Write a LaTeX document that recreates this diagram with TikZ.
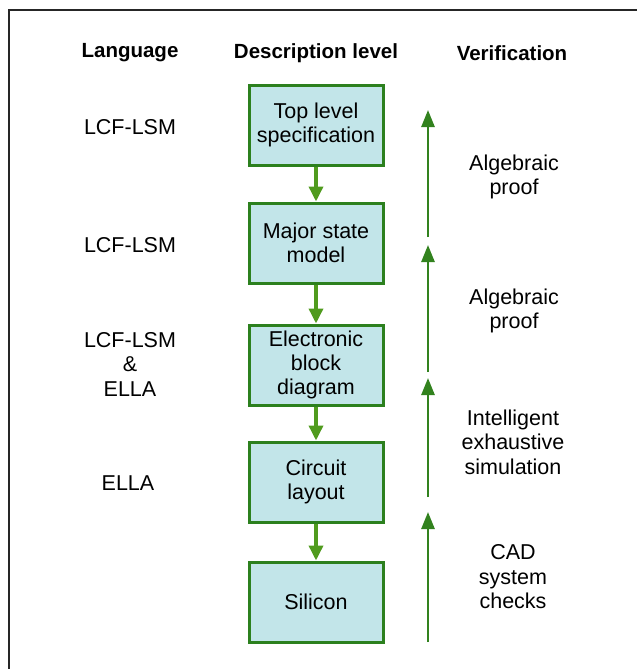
\documentclass[tikz,border=0pt]{standalone}
\usepackage{fontspec}
\setmainfont{Liberation Sans}
\usetikzlibrary{arrows.meta}
\definecolor{boxfill}{RGB}{194,229,233}
\definecolor{boxline}{RGB}{44,128,30}
\definecolor{arrgreen}{RGB}{80,155,30}
\definecolor{vergreen}{RGB}{50,130,30}
\tikzset{
  x=1pt,y=-1pt,
  stagebox/.style={draw=boxline,line width=3pt,fill=boxfill,minimum width=134pt,minimum height=80pt,inner sep=2pt,align=center,font=\fontsize{21.5}{24}\selectfont},
  lbl/.style={align=center,font=\fontsize{21.5}{24.5}\selectfont,inner sep=0pt},
  hdr/.style={font=\bfseries\fontsize{20.5}{22}\selectfont,inner sep=0pt},
  downarr/.style={draw=arrgreen,line width=3.5pt,-{Triangle[length=15pt,width=14pt]}},
  uparr/.style={draw=vergreen,line width=2.6pt,-{Triangle[length=17pt,width=13pt]}},
  frame/.style={draw=black!85,line width=2pt}
}
\begin{document}
\begin{tikzpicture}
\useasboundingbox (0,0) rectangle (637,669);
\fill[white] (0,0) rectangle (637,669);
\draw[frame] (9,669) -- (9,10) -- (637,10);

\node[hdr] (hlang) at (130,53) {Language};
\node[hdr] (hdesc) at (316,53) {Description level};
\node[hdr] (hver) at (512,53) {Verification};

\node[stagebox] (top) at (316,125) {Top level\\specification};
\node[stagebox] (major) at (316,243) {Major state\\model};
\node[stagebox] (elec) at (316,365) {Electronic\\block\\diagram};
\node[stagebox] (circ) at (316,482) {Circuit\\layout};
\node[stagebox] (sil) at (316,602) {Silicon};

\draw[downarr] (top.south) -- (major.north);
\draw[downarr] (major.south) -- (elec.north);
\draw[downarr] (elec.south) -- (circ.north);
\draw[downarr] (circ.south) -- (sil.north);

\node[lbl] (l1) at (130,127) {LCF-LSM};
\node[lbl] (l2) at (130,245) {LCF-LSM};
\node[lbl] (l3) at (130,364) {LCF-LSM\\\&\\ELLA};
\node[lbl] (l4) at (128,483) {ELLA};

\node[lbl] (v1) at (514,177) {Algebraic\\proof};
\node[lbl] (v2) at (514,311) {Algebraic\\proof};
\node[lbl] (v3) at (513,442) {Intelligent\\exhaustive\\simulation};
\node[lbl] (v4) at (513,577) {CAD\\system\\checks};

\coordinate (a1s) at (428,237);
\coordinate (a1e) at (428,110);
\coordinate (a2s) at (428,372);
\coordinate (a2e) at (428,245);
\coordinate (a3s) at (428,497);
\coordinate (a3e) at (428,378);
\coordinate (a4s) at (428,642);
\coordinate (a4e) at (428,512);
\draw[uparr] (a1s) -- (a1e);
\draw[uparr] (a2s) -- (a2e);
\draw[uparr] (a3s) -- (a3e);
\draw[uparr] (a4s) -- (a4e);
\end{tikzpicture}
\end{document}
